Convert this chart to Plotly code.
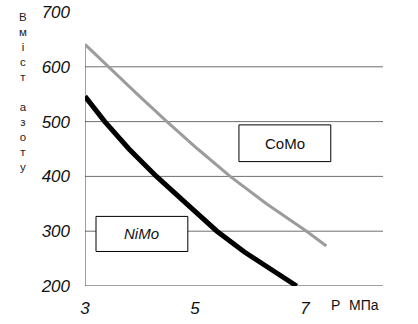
import plotly.graph_objects as go

# Data
p_nimo = [3.0, 3.36, 3.8, 4.3, 4.85, 5.4, 5.9, 6.4, 6.85]
n_nimo = [546, 500, 450, 400, 350, 300, 262, 230, 200]
p_como = [3.0, 3.42, 3.95, 4.49, 5.05, 5.64, 6.3, 7.03, 7.39]
n_como = [641, 600, 550, 500, 450, 400, 350, 300, 273]
x_ticks = [3, 5, 7]
y_ticks = [200, 300, 400, 500, 600, 700]
grid_vals = [300, 400, 500, 600]
x_max = 8.42
y_axis_top = 641

W, H = 418, 324
ml, mr, mt, mb = 85, 35, 12, 38
pw, ph = W - ml - mr, H - mt - mb


def px(x):
    return (x - ml) / pw


def py(y):
    return (H - mb - y) / ph


fig = go.Figure()
fig.add_trace(go.Scatter(x=p_como, y=n_como, mode="lines",
                         line=dict(color="#9c9c9c", width=3), showlegend=False))
fig.add_trace(go.Scatter(x=p_nimo, y=n_nimo, mode="lines",
                         line=dict(color="#000000", width=5), showlegend=False))

shapes = []
for g in grid_vals:
    shapes.append(dict(type="line", xref="x", yref="y", x0=3, x1=x_max, y0=g, y1=g,
                       line=dict(color="#707070", width=1), layer="below"))
# axes lines
shapes.append(dict(type="line", xref="x", yref="y", x0=3, x1=x_max, y0=200, y1=200,
                   line=dict(color="#404040", width=1), layer="below"))
shapes.append(dict(type="line", xref="x", yref="y", x0=3, x1=3, y0=200, y1=y_axis_top,
                   line=dict(color="#404040", width=1), layer="below"))
# label boxes
shapes.append(dict(type="rect", xref="x", yref="y", x0=3.2, x1=4.87, y0=263, y1=327,
                   line=dict(color="#000000", width=1), fillcolor="white", layer="above"))
shapes.append(dict(type="rect", xref="x", yref="y", x0=5.8, x1=7.47, y0=427, y1=494,
                   line=dict(color="#000000", width=1), fillcolor="white", layer="above"))

common = dict(showarrow=False, xanchor="center", yanchor="middle")
annotations = [
    dict(x=(3.2 + 4.87) / 2, y=295, xref="x", yref="y", text="NiMo",
         font=dict(family="Liberation Sans", size=15, color="#111", style="italic"), **common),
    dict(x=(5.8 + 7.47) / 2, y=460, xref="x", yref="y", text="CoMo",
         font=dict(family="Liberation Sans", size=15, color="#111"), **common),
    dict(x=px(335), y=py(305), xref="paper", yref="paper", text="P",
         font=dict(family="Liberation Sans", size=14, color="#111"), **common),
    dict(x=px(364), y=py(305), xref="paper", yref="paper", text="МПа",
         font=dict(family="Liberation Sans", size=14, color="#111"), **common),
    dict(x=px(23), y=py(92), xref="paper", yref="paper",
         text="В<br>м<br>і<br>с<br>т<br> <br>а<br>з<br>о<br>т<br>у",
         font=dict(family="Liberation Sans", size=11.5, color="#222"), **common),
]

fig.update_layout(
    width=W, height=H, margin=dict(l=ml, r=mr, t=mt, b=mb),
    plot_bgcolor="white", paper_bgcolor="white",
    shapes=shapes, annotations=annotations,
    xaxis=dict(range=[3, x_max], tickvals=x_ticks, showgrid=False, zeroline=False,
               showline=False, ticks="", ticklabelstandoff=10, automargin=False,
               tickfont=dict(family="Liberation Sans", size=17, color="#111", style="italic")),
    yaxis=dict(range=[200, 700], tickvals=y_ticks, showgrid=False, zeroline=False,
               showline=False, ticks="", ticklabelstandoff=14, automargin=False,
               tickfont=dict(family="Liberation Sans", size=17, color="#111", style="italic")),
)
fig.write_html("out.html")
